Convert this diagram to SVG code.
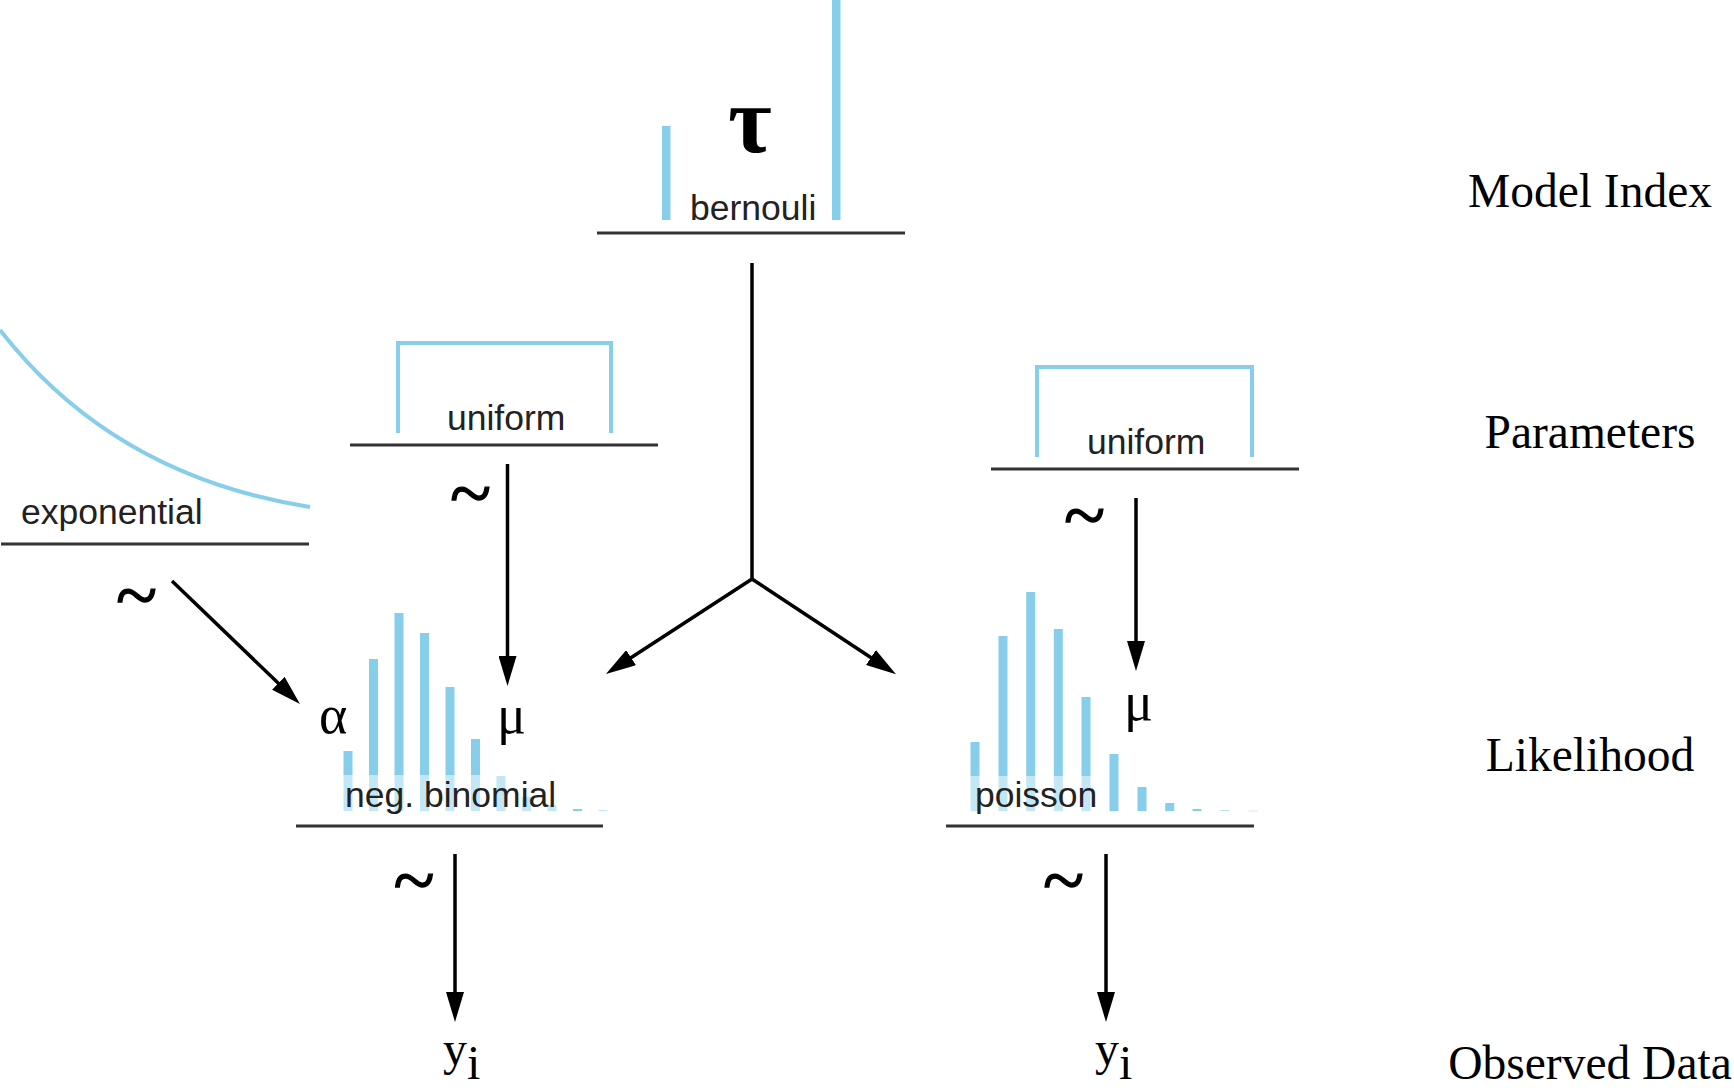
<svg xmlns="http://www.w3.org/2000/svg" width="1734" height="1090" viewBox="0 0 1734 1090">
<defs>
<style>
.lbl{font-family:"Liberation Sans",Arial,sans-serif;font-size:35.5px;fill:#222}
.base{stroke:#333;stroke-width:3;fill:none}
.dist{stroke:#87ceeb;stroke-width:4;fill:none}
.bar{fill:#87ceeb}
.veil{fill:#fff;fill-opacity:0.5}
.sym{font-family:"Liberation Serif","Times New Roman",serif;fill:#000}
.greek{font-size:54px}
.tilde{font-size:76px;stroke:#000;stroke-width:1.3}
.lvl{font-family:"Liberation Serif","Times New Roman",serif;font-size:47.5px;fill:#000;text-anchor:middle}
.conn{stroke:#000;stroke-width:3.5;fill:none;marker-end:url(#arrow)}
</style>
<marker id="arrow" markerUnits="userSpaceOnUse" markerWidth="30" markerHeight="18" viewBox="0 0 30 18" refX="8" refY="9" orient="auto">
<path d="M0,0 L30,9 L0,18 z" fill="#000"/>
</marker>
</defs>
<rect width="1734" height="1090" fill="#fff"/>

<g id="node-bernoulli">
<rect class="bar" x="662" y="126" width="8.5" height="94"/>
<rect class="bar" x="832" y="0" width="8.5" height="220"/>
<text class="sym" x="750" y="152" font-size="95" font-weight="bold" text-anchor="middle">τ</text>
<text class="lbl" x="690" y="220">bernouli</text>
<line class="base" x1="597" y1="233" x2="905" y2="233"/>
</g>

<g id="node-exponential">
<path class="dist" d="M0,330 C70,420 170,485 310,507"/>
<text class="lbl" x="21" y="524">exponential</text>
<line class="base" x1="1" y1="544" x2="309" y2="544"/>
</g>

<g id="node-uniform-left">
<polyline class="dist" points="398,433 398,343 611,343 611,433"/>
<text class="lbl" x="447" y="430">uniform</text>
<line class="base" x1="350" y1="445" x2="658" y2="445"/>
</g>

<g id="node-uniform-right">
<polyline class="dist" points="1037,457 1037,367 1252,367 1252,457"/>
<text class="lbl" x="1087" y="454">uniform</text>
<line class="base" x1="991" y1="469" x2="1299" y2="469"/>
</g>

<g id="node-negbinomial">
<rect class="bar" x="343.5" y="751" width="9" height="60"/>
<rect class="bar" x="369" y="659" width="9" height="152"/>
<rect class="bar" x="394.5" y="613" width="9" height="198"/>
<rect class="bar" x="420" y="633" width="9" height="178"/>
<rect class="bar" x="445.5" y="687" width="9" height="124"/>
<rect class="bar" x="471" y="739" width="9" height="72"/>
<rect class="bar" x="496.5" y="776" width="9" height="35"/>
<rect class="bar" x="522" y="797" width="9" height="14"/>
<rect class="bar" x="547.5" y="805" width="9" height="6"/>
<rect class="bar" x="573" y="809" width="9" height="2"/>
<rect class="bar" x="598.5" y="810" width="9" height="1" fill-opacity="0.5"/>
<rect class="veil" x="341" y="775" width="219" height="37"/>
<text class="sym greek" x="319" y="733">α</text>
<text class="sym greek" x="497" y="733">μ</text>
<text class="lbl" x="345" y="807">neg. binomial</text>
<line class="base" x1="296" y1="826" x2="603" y2="826"/>
</g>

<g id="node-poisson">
<rect class="bar" x="970.5" y="742" width="9" height="69"/>
<rect class="bar" x="998.5" y="636" width="9" height="175"/>
<rect class="bar" x="1026.2" y="592" width="9" height="219"/>
<rect class="bar" x="1053.8" y="629" width="9" height="182"/>
<rect class="bar" x="1081.5" y="697" width="9" height="114"/>
<rect class="bar" x="1109.5" y="754" width="9" height="57"/>
<rect class="bar" x="1137.5" y="787" width="9" height="24"/>
<rect class="bar" x="1165.2" y="803" width="9" height="8"/>
<rect class="bar" x="1192.5" y="809" width="9" height="2"/>
<rect class="bar" x="1220.5" y="810" width="9" height="1" fill-opacity="0.6"/>
<rect class="bar" x="1248.5" y="810.5" width="9" height="1" fill-opacity="0.4"/>
<rect class="veil" x="967" y="776" width="129" height="36"/>
<text class="sym greek" x="1124" y="720">μ</text>
<text class="lbl" x="975" y="807">poisson</text>
<line class="base" x1="946" y1="826" x2="1254" y2="826"/>
</g>

<g id="node-data-left">
<text class="sym" x="443" y="1065" font-size="48">y<tspan dy="14">i</tspan></text>
</g>
<g id="node-data-right">
<text class="sym" x="1095" y="1065" font-size="48">y<tspan dy="14">i</tspan></text>
</g>

<g id="levels">
<text class="lvl" x="1590" y="207">Model Index</text>
<text class="lvl" x="1590" y="448">Parameters</text>
<text class="lvl" x="1590" y="771">Likelihood</text>
<text class="lvl" x="1590" y="1079">Observed Data</text>
</g>

<g id="connectors">
<path class="conn" d="M172,581 L284.1,688.8"/>
<path class="conn" d="M507.5,464 L507.5,664"/>
<path class="conn" d="M752,263 L752,579 L624.4,662"/>
<path class="conn" d="M752,579 L877.6,662"/>
<path class="conn" d="M1136,498 L1136,649"/>
<path class="conn" d="M455,854 L455,1000"/>
<path class="conn" d="M1106,854 L1106,1000"/>
<g class="sym tilde" text-anchor="middle">
<text x="136.5" y="621">~</text>
<text x="470.5" y="519">~</text>
<text x="1084.5" y="541">~</text>
<text x="414" y="906">~</text>
<text x="1063.5" y="906">~</text>
</g>
</g>
</svg>
